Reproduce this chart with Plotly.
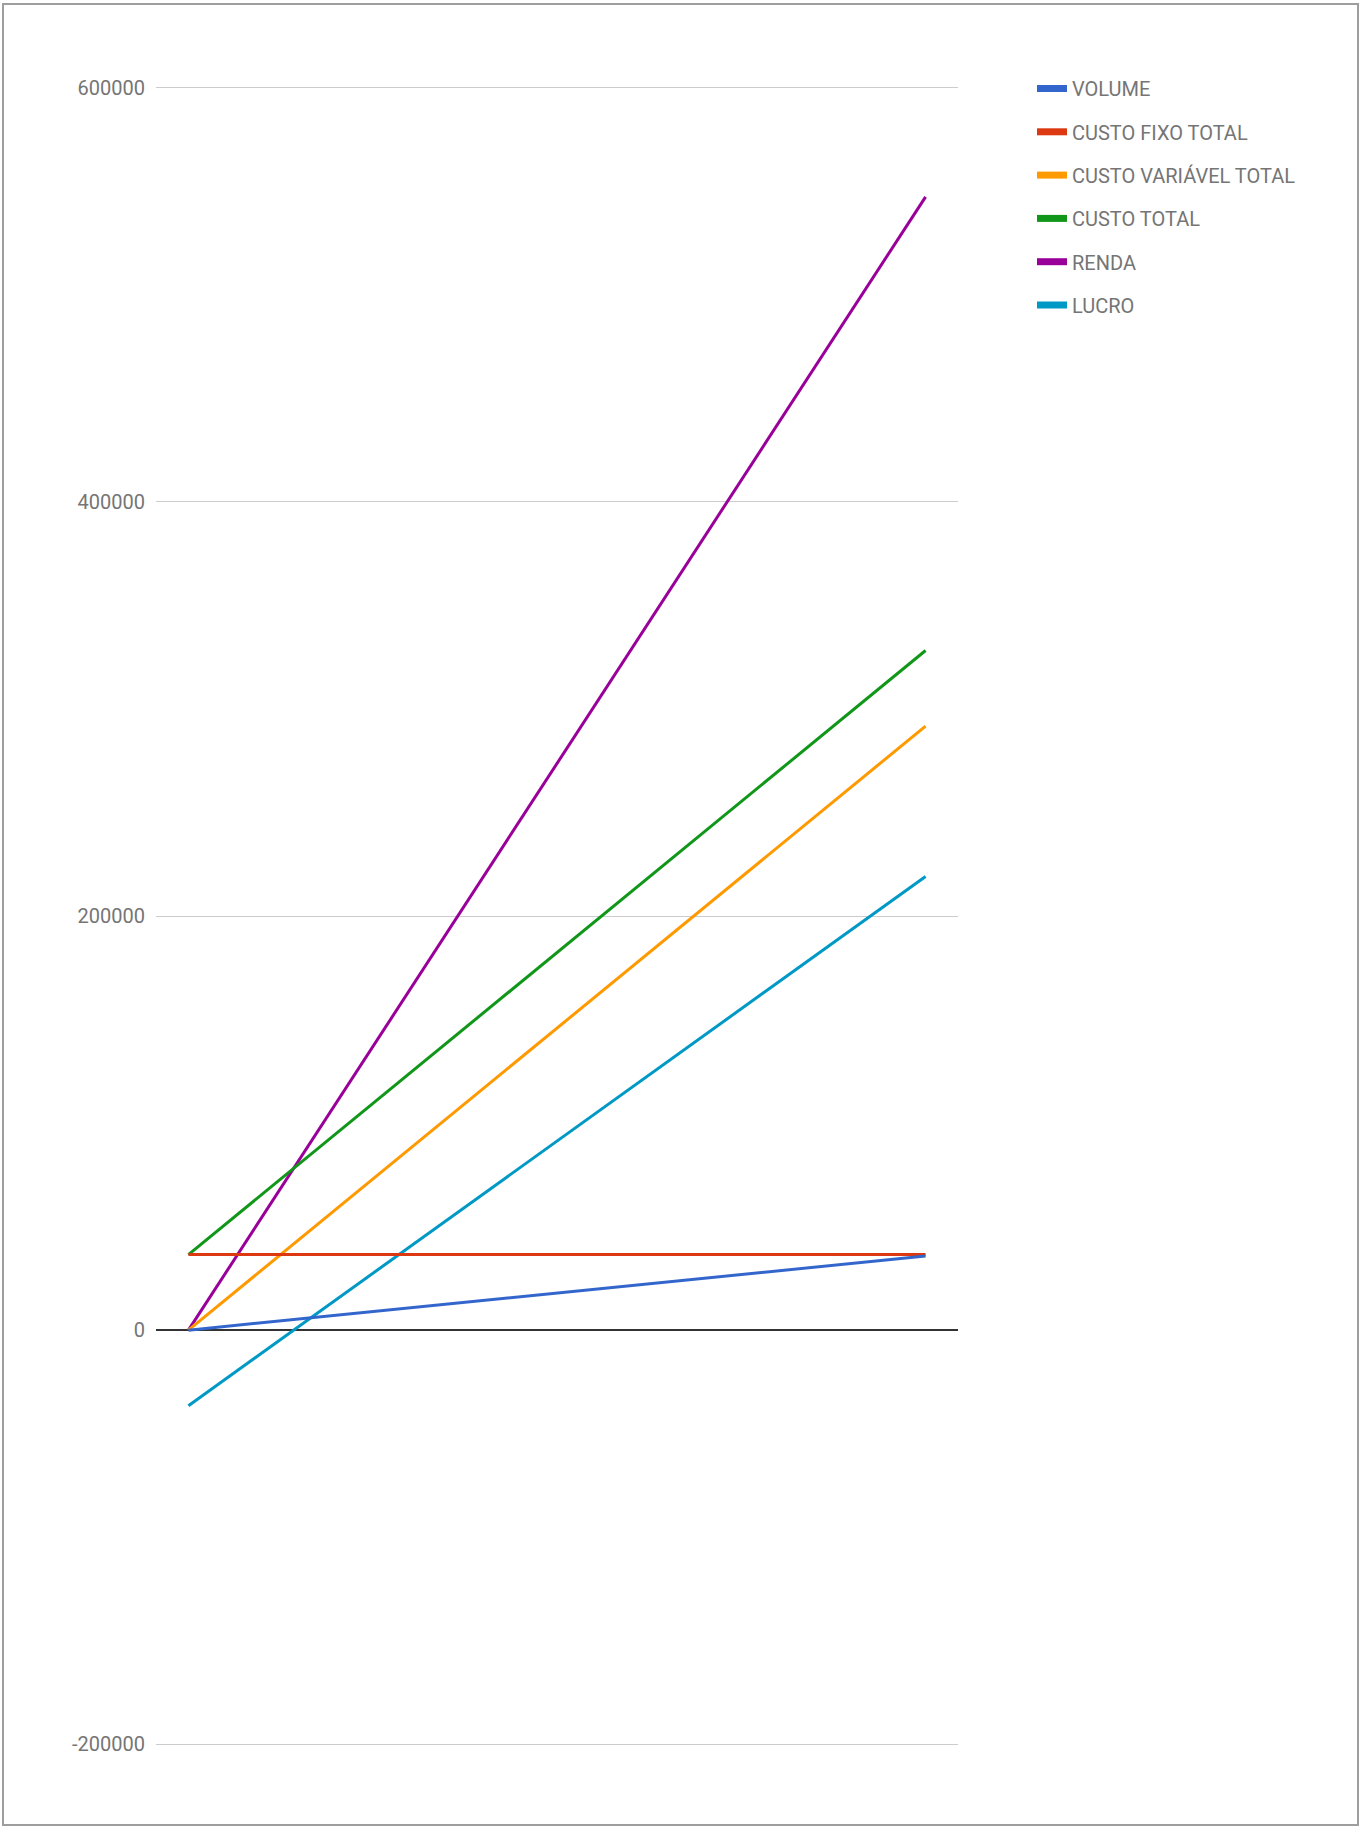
import plotly.graph_objects as go

# Two observation points (start / end of the production range)
pontos = [1, 2]

series_names = ["VOLUME", "CUSTO FIXO TOTAL", "CUSTO VARIÁVEL TOTAL",
                "CUSTO TOTAL", "RENDA", "LUCRO"]
volume = [0, 35800]
custo_fixo_total = [36500, 36500]
custo_variavel_total = [0, 291700]
custo_total = [36500, 328200]
renda = [0, 547300]
lucro = [-36500, 219100]

colors = ["#3366cc", "#dc3912", "#ff9900", "#109618", "#990099", "#0099c6"]
y_ticks = [-200000, 0, 200000, 400000, 600000]

W, H = 1362, 1827
M_L, M_R, M_T, M_B = 156, 404, 67, 62

fig = go.Figure()
all_values = [volume, custo_fixo_total, custo_variavel_total, custo_total, renda, lucro]

# Drawing order: later series on top (Sheets draws the first series last)
for name, vals, col in reversed(list(zip(series_names, all_values, colors))):
    fig.add_trace(go.Scatter(
        x=pontos, y=vals, mode="lines", name=name,
        line=dict(color=col, width=3), showlegend=False,
        hoverinfo="skip",
    ))

# Legend entries with thicker swatches
for i, (name, col) in enumerate(zip(series_names, colors)):
    fig.add_trace(go.Scatter(
        x=[None], y=[None], mode="lines", name=name,
        line=dict(color=col, width=7), legendgroup=f"g{i}",
        showlegend=True,
    ))

plot_w = W - M_L - M_R
plot_h = H - M_T - M_B

# Outer chart frame
fig.add_shape(
    type="rect", xref="paper", yref="paper",
    x0=(3 - M_L) / plot_w, x1=(W - 4 - M_L) / plot_w,
    y0=(H - M_B - (H - 2)) / plot_h, y1=(H - M_B - 4) / plot_h,
    line=dict(color="#9e9e9e", width=2), fillcolor="rgba(0,0,0,0)",
    layer="below",
)

fig.update_layout(
    width=W, height=H,
    margin=dict(l=M_L, r=M_R, t=M_T, b=M_B),
    paper_bgcolor="white", plot_bgcolor="white",
    font=dict(family="Roboto", size=20, color="#757575"),
    xaxis=dict(
        range=[pontos[0] - 0.044, pontos[-1] + 0.044],
        showgrid=False, showticklabels=False, zeroline=False,
        showline=False, ticks="",
    ),
    yaxis=dict(
        range=[-210000, 610000],
        tickvals=y_ticks, ticktext=[str(v) for v in y_ticks],
        showgrid=True, gridcolor="#cccccc", gridwidth=1,
        zeroline=True, zerolinecolor="#333333", zerolinewidth=1.5,
        showline=False, ticks="", ticklabelstandoff=10,
        tickfont=dict(size=20, color="#757575"),
    ),
    legend=dict(
        x=(1032 - M_L) / plot_w, xanchor="left",
        y=(H - M_B - 69) / plot_h, yanchor="top",
        font=dict(size=20, color="#757575", family="Roboto"),
        traceorder="grouped", tracegroupgap=14.3,
        bgcolor="rgba(0,0,0,0)", borderwidth=0,
        itemclick=False,
    ),
    showlegend=True,
)

fig.write_html("out.html")
